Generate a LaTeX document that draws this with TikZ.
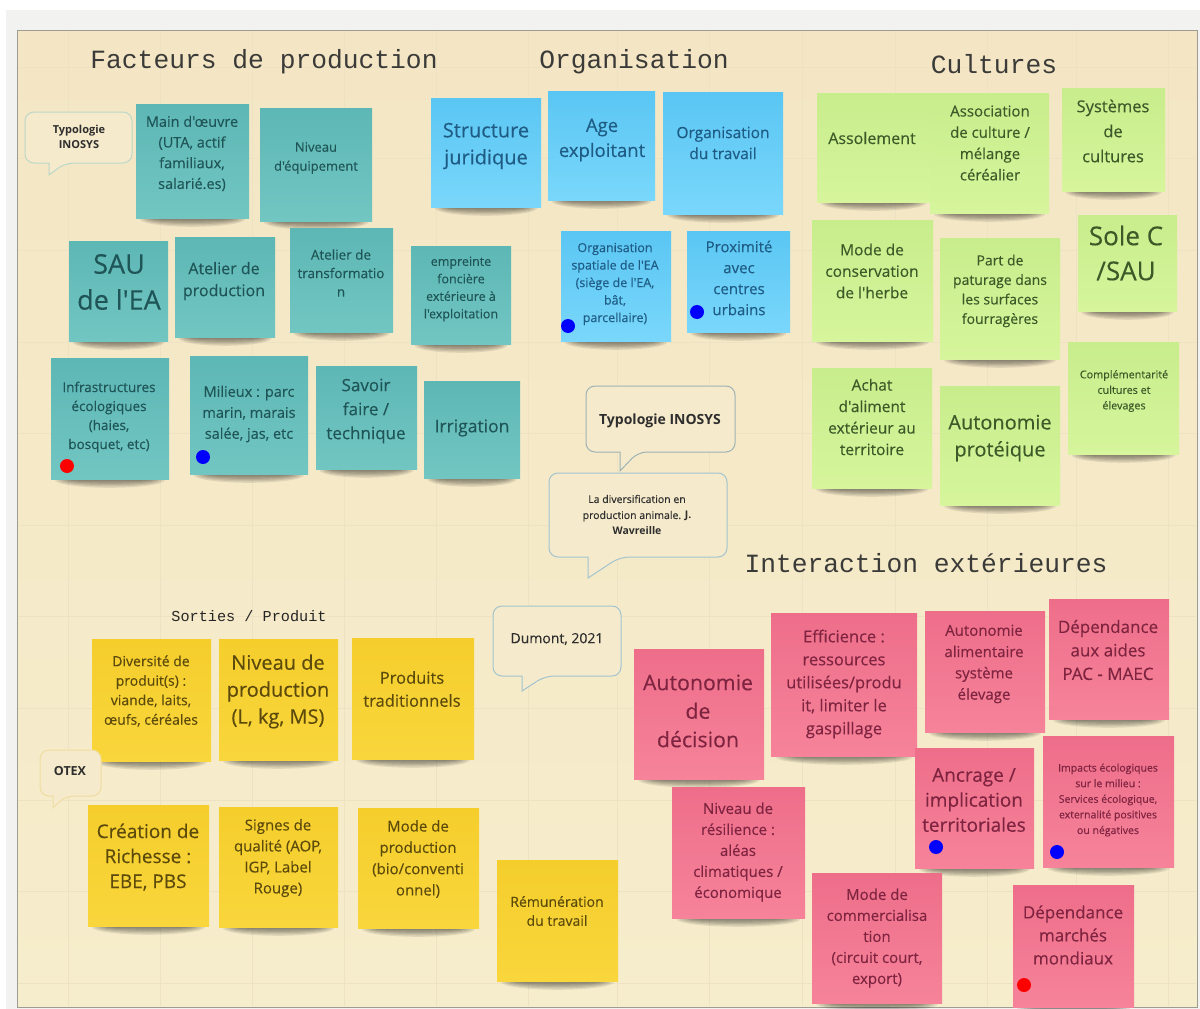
\documentclass[tikz,border=0pt]{standalone}
\usepackage{fontspec}
\setmainfont{Open Sans}[Ligatures=TeXOff,FakeBold=0.25,BoldFeatures={FakeBold=0}]
\setmonofont{Liberation Mono}
\definecolor{boardtop}{HTML}{F4E6C4}
\definecolor{boardbot}{HTML}{F6EDCC}
\definecolor{bubblefill}{HTML}{F5EACB}
\definecolor{framec}{HTML}{9C9C92}
\definecolor{bandc}{HTML}{F2F2F0}
\definecolor{gridc}{HTML}{EDE3C4}
\definecolor{titlec}{HTML}{3A3A38}
\definecolor{tealtext}{HTML}{1F5557}
\definecolor{bluetext}{HTML}{1E5C85}
\definecolor{greentext}{HTML}{3C5A28}
\definecolor{redtext}{HTML}{7E2340}
\definecolor{yellowtext}{HTML}{5C4A0C}
\definecolor{darktext}{HTML}{2E2E2E}
\definecolor{HTMLteala}{HTML}{5DB7B5}
\definecolor{HTMLtealb}{HTML}{72C6C2}
\definecolor{HTMLbluea}{HTML}{5AC6F3}
\definecolor{HTMLblueb}{HTML}{7AD7FB}
\definecolor{HTMLgreena}{HTML}{C8ED8C}
\definecolor{HTMLgreenb}{HTML}{D6F59C}
\definecolor{HTMLreda}{HTML}{EE6E8A}
\definecolor{HTMLredb}{HTML}{F6839A}
\definecolor{HTMLyellowa}{HTML}{F5CE2C}
\definecolor{HTMLyellowb}{HTML}{F9D63C}
\definecolor{bubblegreen}{HTML}{BBD8C8}
\definecolor{bubbleslate}{HTML}{9FB3B5}
\definecolor{bubbleblue}{HTML}{A3C4CF}
\definecolor{bubbleorange}{HTML}{F0DDA0}
\tikzset{
  x=1pt,y=-1pt,
  tealnote/.style={top color=HTMLteala,bottom color=HTMLtealb},
  bluenote/.style={top color=HTMLbluea,bottom color=HTMLblueb},
  greennote/.style={top color=HTMLgreena,bottom color=HTMLgreenb},
  rednote/.style={top color=HTMLreda,bottom color=HTMLredb},
  yellownote/.style={top color=HTMLyellowa,bottom color=HTMLyellowb},
  notetext/.style={inner sep=0pt,align=center,anchor=center},
  title/.style={inner sep=0pt,text=titlec,font=\ttfamily\fontsize{26.3}{30}\selectfont},
  bubble/.style={fill=bubblefill,line width=1pt,rounded corners=9pt},
}
\newcommand{\notepaper}[5]{%
  \pgfmathsetmacro{\nmx}{(#1+#3)/2}%
  \pgfmathsetmacro{\nrx}{(#3-#1)*0.44}%
  \foreach \k in {1,...,6}{%
    \fill[black,opacity=.085] (\nmx,#4+1) ellipse [x radius=\nrx*(0.7+0.06*\k),y radius=1.3*\k];
  }
  \path[#5note] (#1,#2) rectangle (#3,#4);
}
\newcommand{\bubblepath}[9]{%
  \draw[bubble,draw=#9] (#1,#2) [rounded corners=9pt] -- (#3,#2) -- (#3,#4) -- (#7,#4) [sharp corners] -- (#6,#8) -- (#5,#4) [rounded corners=9pt] -- (#1,#4) -- cycle;
}
\newcommand{\nt}[7]{\node[notetext,text=#2text,font=\fontsize{#5}{#6}\selectfont] (#1) at (#3,#4) {#7};}
\begin{document}
\begin{tikzpicture}
\useasboundingbox (0,0) rectangle (1200,1009);
\fill[white] (0,0) rectangle (1200,1009);
\fill[bandc] (6,10) rectangle (1200,1009);
\path[top color=boardtop,bottom color=boardbot,draw=framec,line width=.8pt] (17,30) rectangle (1197,1007);
\foreach \gx in {68,160,252,344,436,528,617,709,802,895,987,1076,1168}
  \draw[gridc,line width=.5pt] (\gx,31) -- (\gx,1006);
\foreach \gy in {67,158,250,342,433,525,616,708,800,891,983}
  \draw[gridc,line width=.5pt] (18,\gy) -- (1196,\gy);

% titles
\node[title] (t1) at (264,62) {Facteurs de production};
\node[title] (t2) at (634,62) {Organisation};
\node[title] (t3) at (994,64) {Cultures};
\node[title] (t4) at (926,563) {Interaction extérieures};
\node[inner sep=0pt,text=black!85,font=\ttfamily\fontsize{15.2}{18}\selectfont] (t5) at (249,616) {Sorties / Produit};

% teal
\notepaper{136}{104}{249}{218}{teal}
\notepaper{260}{108}{372}{221}{teal}
\notepaper{69}{241}{168}{341}{teal}
\notepaper{175}{237}{275}{337}{teal}
\notepaper{290}{228}{393}{332}{teal}
\notepaper{411}{246}{511}{344}{teal}
\notepaper{51}{358}{169}{479}{teal}
\notepaper{190}{356}{308}{474}{teal}
\notepaper{316}{366}{417}{469}{teal}
\notepaper{424}{381}{520}{478}{teal}
% blue
\notepaper{431}{98}{541}{207}{blue}
\notepaper{548}{91}{655}{200}{blue}
\notepaper{663}{92}{783}{214}{blue}
\notepaper{561}{231}{671}{341}{blue}
\notepaper{687}{231}{790}{332}{blue}
% green
\notepaper{817}{93}{930}{202}{green}
\notepaper{930}{93}{1049}{213}{green}
\notepaper{1062}{88}{1165}{191}{green}
\notepaper{812}{220}{933}{341}{green}
\notepaper{940}{238}{1060}{359}{green}
\notepaper{1078}{215}{1177}{311}{green}
\notepaper{812}{368}{932}{488}{green}
\notepaper{940}{386}{1060}{505}{green}
\notepaper{1068}{342}{1179}{454}{green}
% red
\notepaper{634}{649}{764}{779}{red}
\notepaper{771}{613}{917}{756}{red}
\notepaper{925}{611}{1045}{732}{red}
\notepaper{1049}{599}{1169}{719}{red}
\notepaper{672}{787}{805}{918}{red}
\notepaper{1043}{736}{1174}{867}{red}
\notepaper{915}{748}{1034}{868}{red}
\notepaper{812}{873}{942}{1003}{red}
\notepaper{1013}{885}{1134}{1007}{red}
% yellow
\notepaper{92}{639}{211}{761}{yellow}
\notepaper{219}{639}{338}{760}{yellow}
\notepaper{352}{638}{474}{759}{yellow}
\notepaper{88}{805}{209}{926}{yellow}
\notepaper{219}{807}{338}{927}{yellow}
\notepaper{358}{808}{479}{928}{yellow}
\notepaper{497}{860}{618}{981}{yellow}

% bubbles: x1 y1 x2 y2 tailL tipx tailR tipy colour
\bubblepath{25}{112}{132}{163}{49}{49}{65}{175}{bubblegreen}
\bubblepath{586}{386}{735}{452}{620}{620}{638}{471}{bubbleslate}
\bubblepath{549}{473}{727}{557}{588}{588}{620}{578}{bubbleblue}
\bubblepath{493}{606}{621}{676}{522}{522}{545}{691}{bubbleblue}
\bubblepath{40}{750}{101}{796}{53}{53}{65}{808}{bubbleorange}

% texts
\nt{a1}{teal}{192}{153.5}{14.5}{20.7}{Main d'œuvre\\(UTA, actif\\familiaux,\\salarié.es)}
\nt{a2}{teal}{316}{158}{13}{19}{Niveau\\d'équipement}
\nt{a3}{teal}{119}{282}{27}{36}{SAU\\de l'EA}
\nt{a4}{teal}{224}{281}{16}{22}{Atelier de\\production}
\nt{a5}{teal}{341}{273}{13.5}{18.5}{Atelier de\\transformatio\\n}
\nt{a6}{teal}{461}{289}{12.5}{17.5}{empreinte\\foncière\\extérieure à\\l'exploitation}
\nt{a7}{teal}{109}{417}{13.5}{19}{Infrastructures\\écologiques\\(haies,\\bosquet, etc)}
\nt{a8}{teal}{249}{414}{14.5}{21}{Milieux : parc\\marin, marais\\salée, jas, etc}
\nt{a9}{teal}{366}{411}{17}{24}{Savoir\\faire /\\technique}
\nt{a10}{teal}{472}{428}{17.5}{24}{Irrigation}

\nt{b1}{blue}{486}{146}{20}{27}{Structure\\juridique}
\nt{b2}{blue}{602}{140}{18.5}{25}{Age\\exploitant}
\nt{b3}{blue}{723}{143}{15.5}{21}{Organisation\\du travail}
\nt{b4}{blue}{615}{284}{12.5}{17.5}{Organisation\\spatiale de l'EA\\(siège de l'EA,\\bât,\\parcellaire)}
\nt{b5}{blue}{739}{278}{15}{21}{Proximité\\avec\\centres\\urbains}

\nt{c1}{green}{872}{138}{16}{22}{Assolement}
\nt{c2}{green}{990}{143}{15}{21.3}{Association\\de culture /\\mélange\\céréalier}
\nt{c3}{green}{1113}{131}{16.5}{25}{Systèmes\\de\\cultures}
\nt{c4}{green}{872}{271}{15.5}{21.5}{Mode de\\conservation\\de l'herbe}
\nt{c5}{green}{1000}{291}{14}{19.5}{Part de\\paturage dans\\les surfaces\\fourragères}
\nt{c6}{green}{1126}{253}{26}{35}{Sole C\\/SAU}
\nt{c7}{green}{872}{417}{15.5}{21.5}{Achat\\d'aliment\\extérieur au\\territoire}
\nt{c8}{green}{1000}{438}{20}{27}{Autonomie\\protéique}
\nt{c9}{green}{1124}{391}{10.8}{15.5}{Complémentarité\\cultures et\\élevages}

\nt{d1}{red}{698}{711}{21.3}{28.5}{Autonomie\\de\\décision}
\nt{d2}{red}{844}{684}{16.5}{23}{Efficience :\\ressources\\utilisées/produ\\it, limiter le\\gaspillage}
\nt{d3}{red}{984}{664}{15}{21.3}{Autonomie\\alimentaire\\système\\élevage}
\nt{d4}{red}{1108}{650}{17}{23.5}{Dépendance\\aux aides\\PAC - MAEC}
\nt{d5}{red}{738}{852}{15}{21}{Niveau de\\résilience :\\aléas\\climatiques /\\économique}
\nt{d6}{red}{974}{800}{19}{25}{Ancrage /\\implication\\territoriales}
\nt{d7}{red}{1108}{800}{10.5}{15.6}{Impacts écologiques\\sur le milieu :\\Services écologique,\\externalité positives\\ou négatives}
\nt{d8}{red}{877}{938}{15}{21}{Mode de\\commercialisa\\tion\\(circuit court,\\export)}
\nt{d9}{red}{1073}{935}{17}{23}{Dépendance\\marchés\\mondiaux}

\nt{e1}{yellow}{151}{691}{14}{19.5}{Diversité de\\produit(s) :\\viande, laits,\\œufs, céréales}
\nt{e2}{yellow}{278}{691.5}{20}{27}{Niveau de\\production\\(L, kg, MS)}
\nt{e3}{yellow}{412}{689}{16.5}{23}{Produits\\traditionnels}
\nt{e4}{yellow}{148}{857}{19}{25}{Création de\\Richesse :\\EBE, PBS}
\nt{e5}{yellow}{278}{858}{15}{21}{Signes de\\qualité (AOP,\\IGP, Label\\Rouge)}
\nt{e6}{yellow}{418}{859}{15}{21.3}{Mode de\\production\\(bio/conventi\\onnel)}
\nt{e7}{yellow}{557}{911}{14}{19}{Rémunération\\du travail}

\nt{f1}{dark}{79}{137}{11}{15}{\textbf{Typologie}\\\textbf{INOSYS}}
\nt{f2}{dark}{660}{421}{14}{18}{\textbf{Typologie INOSYS}}
\nt{f3}{dark}{637}{515}{10.5}{16}{La diversification en\\production animale. \textbf{J.}\\\textbf{Wavreille}}
\nt{f4}{dark}{557}{639}{14}{18}{Dumont, 2021}
\nt{f5}{dark}{70}{771}{12.5}{16}{\textbf{OTEX}}

% pins
\fill[red] (67,466) circle (7);
\fill[blue] (203,457) circle (7);
\fill[blue] (568,326) circle (7);
\fill[blue] (697,312) circle (7);
\fill[blue] (936,847) circle (7);
\fill[blue] (1057,852) circle (7);
\fill[red] (1024,985) circle (7);
\end{tikzpicture}
\end{document}
